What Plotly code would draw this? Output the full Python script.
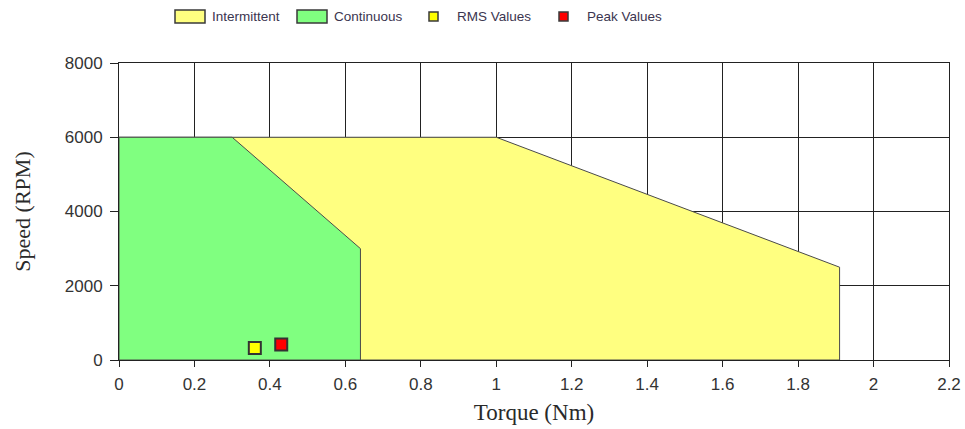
import plotly.graph_objects as go

# Data
inter_torque = [0, 0, 1.0, 1.91, 1.91, 0]
inter_speed = [0, 6000, 6000, 2500, 0, 0]
cont_torque = [0, 0, 0.3, 0.64, 0.64, 0]
cont_speed = [0, 6000, 6000, 3000, 0, 0]
rms_torque = [0.36]
rms_speed = [320]
peak_torque = [0.43]
peak_speed = [420]
x_ticks = [0, 0.2, 0.4, 0.6, 0.8, 1, 1.2, 1.4, 1.6, 1.8, 2, 2.2]
x_tick_labels = ["0", "0.2", "0.4", "0.6", "0.8", "1", "1.2", "1.4", "1.6", "1.8", "2", "2.2"]
y_ticks = [0, 2000, 4000, 6000, 8000]
y_tick_labels = ["0", "2000", "4000", "6000", "8000"]
legend_names = ["Intermittent", "Continuous", "RMS Values", "Peak Values"]

INTER_FILL = "#FFFF80"
CONT_FILL = "#80FF80"
RMS_COLOR = "#FFFF00"
PEAK_COLOR = "#FF0000"
EDGE = "#4a4a4a"

fig = go.Figure()
fig.add_trace(go.Scatter(x=inter_torque, y=inter_speed, mode="lines", fill="toself",
                         fillcolor=INTER_FILL, line=dict(color=EDGE, width=1),
                         name=legend_names[0], showlegend=False))
fig.add_trace(go.Scatter(x=cont_torque, y=cont_speed, mode="lines", fill="toself",
                         fillcolor=CONT_FILL, line=dict(color=EDGE, width=1),
                         name=legend_names[1], showlegend=False))
fig.add_trace(go.Scatter(x=rms_torque, y=rms_speed, mode="markers",
                         marker=dict(symbol="square", size=12, color=RMS_COLOR,
                                     line=dict(color="#333333", width=2)),
                         name=legend_names[2], showlegend=False))
fig.add_trace(go.Scatter(x=peak_torque, y=peak_speed, mode="markers",
                         marker=dict(symbol="square", size=12, color=PEAK_COLOR,
                                     line=dict(color="#333333", width=2)),
                         name=legend_names[3], showlegend=False))

# Manual legend (pixel offsets from the plot's top-left corner)
shapes = []
annotations = []
legend_items = [
    (legend_names[0], INTER_FILL, 56, 86, 40, 53, 91),
    (legend_names[1], CONT_FILL, 178, 208, 40, 53, 213),
    (legend_names[2], RMS_COLOR, 310, 319, 42, 51, 336),
    (legend_names[3], PEAK_COLOR, 440, 449, 42, 51, 466),
]
for name, col, x0, x1, y0, y1, tx in legend_items:
    shapes.append(dict(type="rect", xref="paper", yref="paper",
                       xsizemode="pixel", ysizemode="pixel", xanchor=0, yanchor=1,
                       x0=x0, x1=x1, y0=y0, y1=y1,
                       fillcolor=col, line=dict(color="#3a3a3a", width=1.5)))
    annotations.append(dict(text=name, xref="paper", yref="paper", x=0, y=1,
                            xshift=tx, yshift=47, xanchor="left", yanchor="middle",
                            showarrow=False,
                            font=dict(family="Liberation Sans, Arial", size=13.5, color="#3b3550")))

fig.update_layout(
    width=965, height=429,
    margin=dict(l=119, r=16, t=63, b=69),
    paper_bgcolor="white", plot_bgcolor="white",
    showlegend=False,
    shapes=shapes,
    annotations=annotations,
    font=dict(family="Liberation Sans, Arial", color="#333333"),
)
fig.update_xaxes(range=[0, 2.2], tickvals=x_ticks, ticktext=x_tick_labels,
                 showgrid=True, gridcolor="#222222", gridwidth=1,
                 showline=True, linecolor="#222222", linewidth=1, mirror=True,
                 ticks="outside", ticklen=6, tickcolor="#222222",
                 ticklabelstandoff=3,
                 tickfont=dict(family="Liberation Sans, Arial", size=17, color="#333333"),
                 title=dict(text="Torque (Nm)", font=dict(family="Liberation Serif, Times New Roman", size=23, color="#2a2a2a"), standoff=10),
                 zeroline=False, automargin=False)
fig.update_yaxes(range=[0, 8000], tickvals=y_ticks, ticktext=y_tick_labels,
                 showgrid=True, gridcolor="#222222", gridwidth=1,
                 showline=True, linecolor="#222222", linewidth=1, mirror=True,
                 ticks="outside", ticklen=8, tickcolor="#222222",
                 ticklabelstandoff=4,
                 tickfont=dict(family="Liberation Sans, Arial", size=17, color="#333333"),
                 title=dict(text="Speed (RPM)", font=dict(family="Liberation Serif, Times New Roman", size=22, color="#2a2a2a"), standoff=28),
                 zeroline=False, automargin=False)

fig.write_html("out.html", config={"displayModeBar": False},
               post_script="document.body.style.margin='0';document.body.style.padding='0';")
